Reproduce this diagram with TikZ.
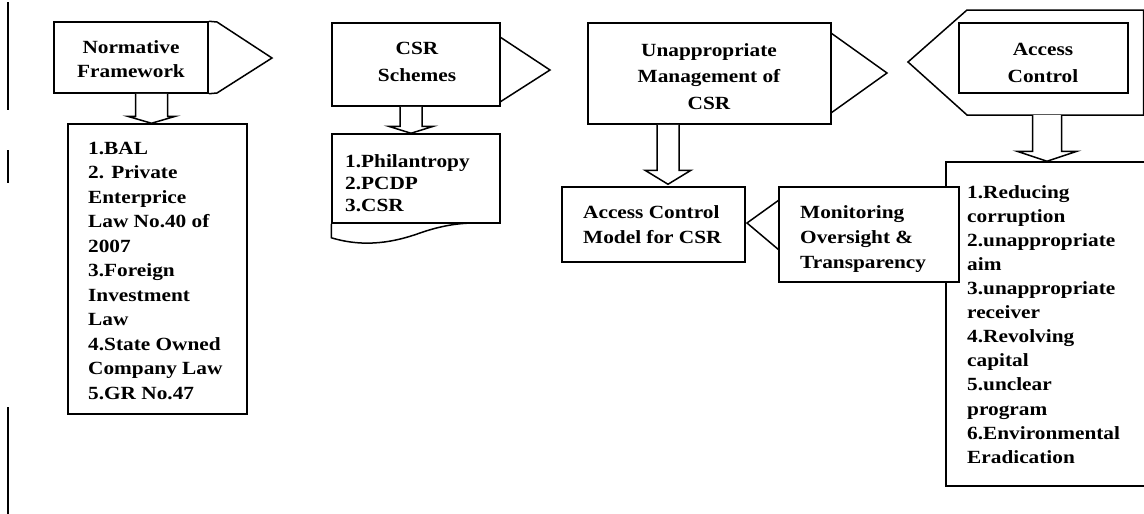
\documentclass[tikz,border=0pt]{standalone}
\usepackage{fontspec}
\setmainfont{Liberation Serif}[FakeStretch=1.145]
\usetikzlibrary{calc}
\tikzset{
  ln/.style={line width=1.5pt, line join=miter},
  box/.style 2 args={draw, ln, fill=white, inner sep=0pt, minimum width=#1, minimum height=#2},
  hdr/.style={inner sep=0pt, align=center, anchor=north, font=\fontsize{18.6}{#1}\selectfont\bfseries},
  lst/.style={inner sep=0pt, align=left, anchor=north west, font=\fontsize{18.6}{#1}\selectfont\bfseries},
}
\newcommand{\dnarrow}[5]{\draw[ln,fill=white] let \p1=#1, \p2=#2 in
  (\x2-#3,\y1) -- (\x2-#3,\y2+#5) -- (\x2-#4,\y2+#5) -- (\x2,\y2) -- (\x2+#4,\y2+#5) -- (\x2+#3,\y2+#5) -- (\x2+#3,\y1);}
\begin{document}
\begin{tikzpicture}[x=1pt,y=-1pt]
\useasboundingbox (0,0) rectangle (1144,514);
% margin bars
\draw[line width=2pt] (8,2) -- (8,110);
\draw[line width=2pt] (8,150) -- (8,183);
\draw[line width=2pt] (8,407) -- (8,514);

% Normative Framework
\node[box={154}{71}] (nfbox) at (131,57.5) {};
\draw[ln] (nfbox.north east) -- (217,22) -- (272,58) -- (217,93) -- (nfbox.south east);
\node[hdr=24] (nft) at (131,40) {Normative\\Framework};
\node[box={179}{290}] (nfl) at (157.5,269) {};
\node[lst=24.5] (nflt) at (88,142) {1.BAL\\2. Private\\Enterprice\\Law No.40 of\\2007\\3.Foreign\\Investment\\Law\\4.State Owned\\Company Law\\5.GR No.47};
\dnarrow{(nfbox.south)}{([xshift=-6]nfl.north)}{16}{24}{7}

% CSR Schemes
\node[box={168}{83}] (csbox) at (416,64.5) {};
\draw[ln] (500,37) -- (550,70) -- (500,102);
\node[hdr=27] (cst) at (417,42) {CSR\\Schemes};
\node[box={168}{89}] (csl) at (416,178.5) {};
\draw[ln] (csl.south west) -- ++(0,14) .. controls (365,248) and (395,242) .. (420,233) .. controls (440,226) and (458,223) .. (475,223);
\node[lst=22.2] (cslt) at (345,154) {1.Philantropy\\2.PCDP\\3.CSR};
\dnarrow{(csbox.south)}{([xshift=-5]csl.north)}{11}{22.5}{7}

% Unappropriate Management of CSR
\node[box={243}{101}] (umbox) at (709.5,73.5) {};
\draw[ln] (831,33) -- (887,73) -- (831,113);
\node[hdr=26.5] (umt) at (709,43) {Unappropriate\\Management of\\CSR};

% Access Control Model for CSR
\node[box={183}{75}] (acm) at (653.5,224.5) {};
\node[lst=25] (acmt) at (583,205) {Access Control\\Model for CSR};
\dnarrow{(umbox.south)}{([xshift=14.5,yshift=2]acm.north)}{11}{23}{14}

% Access Control (top right)
\coordinate (acbot) at (1047,115);
\draw[ln] (1143.5,10) -- (967,10) -- (908,62) -- (967,115) -- (1143.5,115) -- cycle;
\node[box={169}{70}] (acbox) at (1043.5,58) {};
\node[hdr=26.7] (act) at (1043,43) {Access\\Control};

% right list
\node[box={204}{324}] (acl) at (1048,324) {};
\node[lst=24.1] (aclt) at (967,185) {1.Reducing\\corruption\\2.unappropriate\\aim\\3.unappropriate\\receiver\\4.Revolving\\capital\\5.unclear\\program\\6.Environmental\\Eradication};
\dnarrow{(acbot)}{([xshift=-1]acl.north)}{14.5}{30}{10}

% Monitoring Oversight & Transparency
\node[box={180}{95}] (mon) at (869,234.5) {};
\draw[ln] (779,200) -- (747,223) -- (779,250);
\node[lst=25] (mont) at (800,205) {Monitoring\\Oversight \&\\Transparency};
\end{tikzpicture}
\end{document}
